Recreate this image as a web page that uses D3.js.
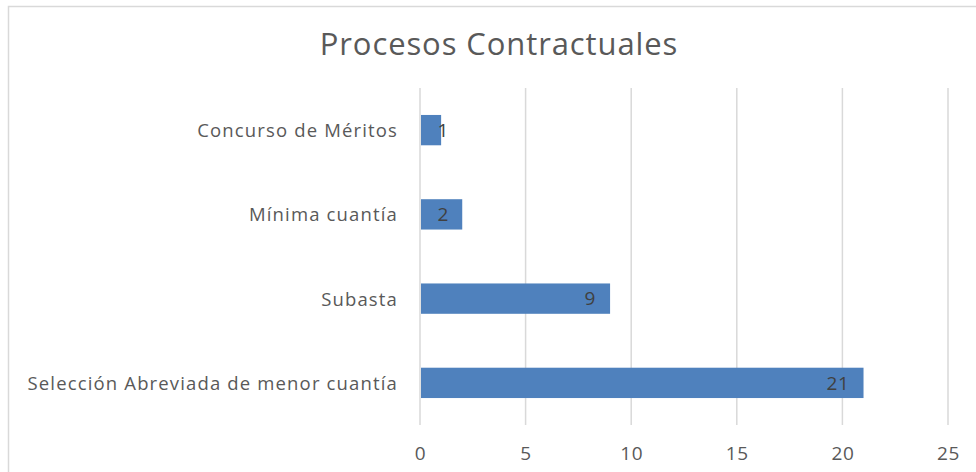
<!DOCTYPE html>
<html>
<head>
<meta charset="utf-8">
<script src="https://cdn.jsdelivr.net/npm/d3@7"></script>
<style>
  html, body { margin: 0; padding: 0; background: #fff; }
  svg { display: block; }
  text { font-family: "Open Sans", "Liberation Sans", sans-serif; }
</style>
</head>
<body>
<svg id="chart" width="976" height="472"></svg>
<script>
// Contract process counts
const categories = ["Concurso de Méritos", "Mínima cuantía", "Subasta", "Selección Abreviada de menor cuantía"];
const values = [1, 2, 9, 21];
const xTicks = [0, 5, 10, 15, 20, 25];
const title = "Procesos Contractuales";

const W = 976, H = 472;
const plot = { left: 420, right: 948, top: 88, bottom: 425 };

const svg = d3.select("#chart");

// chart frame
svg.append("rect")
  .attr("x", 8.5).attr("y", 6.5)
  .attr("width", W + 10).attr("height", H + 10)
  .attr("fill", "#fff").attr("stroke", "#d9d9d9").attr("stroke-width", 1.5);

const x = d3.scaleLinear().domain([0, 25]).range([plot.left, plot.right]);
const y = d3.scaleBand().domain(categories).range([plot.top, plot.bottom]).paddingInner(0.64).paddingOuter(0.32);

// title
svg.append("text")
  .attr("x", 499).attr("y", 55)
  .attr("text-anchor", "middle")
  .attr("font-size", 31)
  .attr("letter-spacing", 0.9)
  .attr("fill", "#595959")
  .text(title);

// vertical gridlines
svg.append("g")
  .selectAll("line")
  .data(xTicks)
  .join("line")
  .attr("x1", d => x(d)).attr("x2", d => x(d))
  .attr("y1", plot.top).attr("y2", plot.bottom)
  .attr("stroke", "#d9d9d9").attr("stroke-width", 1.5);

// x axis tick labels
const xAxis = d3.axisBottom(x).tickValues(xTicks).tickSize(0).tickPadding(0);
const gx = svg.append("g").attr("transform", `translate(0,${plot.bottom + 35})`).call(xAxis);
gx.select(".domain").remove();
gx.selectAll("text")
  .attr("font-size", 19)
  .attr("letter-spacing", 0.6)
  .attr("fill", "#595959")
  .attr("font-family", "\"Open Sans\", sans-serif")
  .attr("dy", "0");

// y axis category labels
const yAxis = d3.axisLeft(y).tickSize(0).tickPadding(22);
const gy = svg.append("g").attr("transform", `translate(${plot.left},0)`).call(yAxis);
gy.select(".domain").remove();
gy.selectAll("text")
  .attr("font-size", 18.5)
  .attr("fill", "#595959")
  .attr("font-family", "\"Open Sans\", sans-serif")
  .attr("letter-spacing", 1.15)
  .attr("dy", "0.38em");

// bars
svg.append("g")
  .selectAll("rect")
  .data(values)
  .join("rect")
  .attr("x", x(0) + 1)
  .attr("y", (d, i) => y(categories[i]))
  .attr("width", d => x(d) - x(0) - 1)
  .attr("height", y.bandwidth())
  .attr("fill", "#4f81bd");

// value labels at the inside end of each bar
svg.append("g")
  .selectAll("text")
  .data(values)
  .join("text")
  .attr("x", d => Math.max(x(d) - 14, x(0) + 29))
  .attr("y", (d, i) => y(categories[i]) + y.bandwidth() / 2)
  .attr("dy", "0.36em")
  .attr("text-anchor", "end")
  .attr("font-size", 19)
  .attr("letter-spacing", 0.6)
  .attr("fill", "#404040")
  .text(d => d);
</script>
</body>
</html>
